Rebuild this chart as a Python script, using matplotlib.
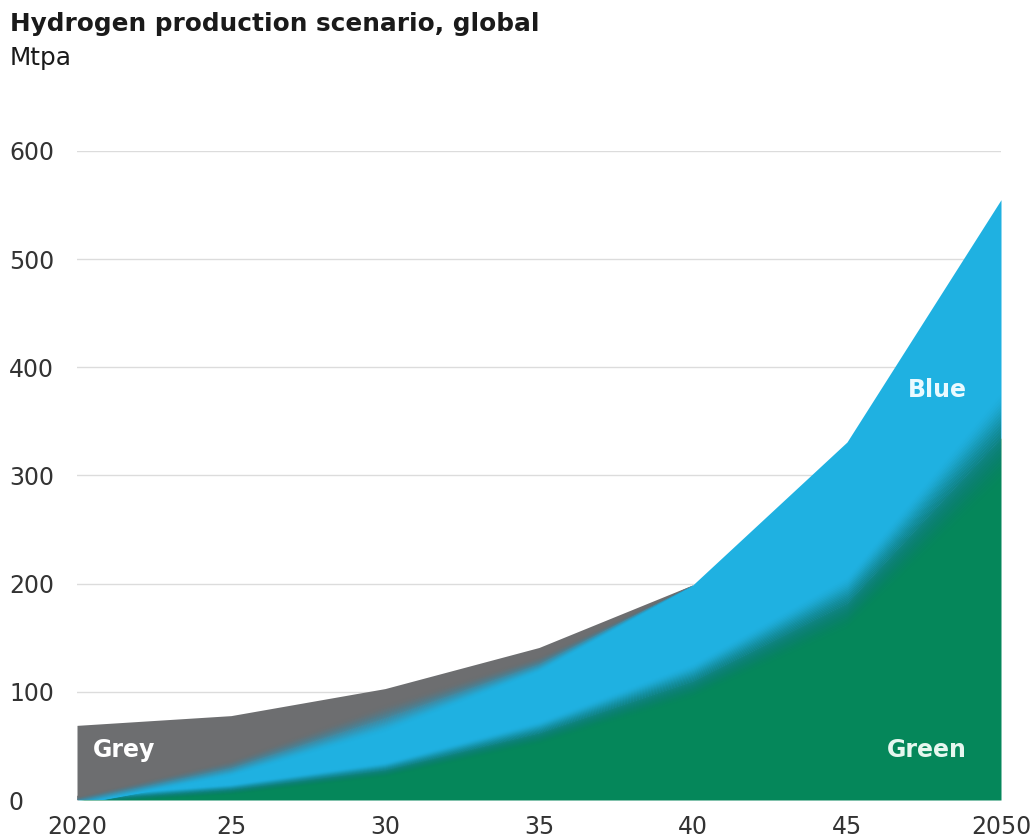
import numpy as np
import matplotlib
matplotlib.use("Agg")
import matplotlib.pyplot as plt
from matplotlib.colors import to_rgb

plt.rcParams['font.family'] = ['DejaVu Sans']

# ---- data (Mtpa) ----
years = [2020, 2025, 2030, 2035, 2040, 2045, 2050]
tick_labels = ["2020", "25", "30", "35", "40", "45", "2050"]
green = [0, 10, 28, 62, 110, 182, 335]
blue = [0, 20, 48, 64, 89, 149, 220]
grey = [69, 48, 27, 15, 0, 0, 0]

C_GREEN = "#05875a"
C_BLUE = "#1fb1e1"
C_GREY = "#6d6e70"

x = np.array(years, dtype=float)
g = np.array(green, dtype=float)
b_top = g + np.array(blue, dtype=float)
total = b_top + np.array(grey, dtype=float)

fig = plt.figure(figsize=(10.36, 8.4), dpi=100)
ax = fig.add_axes([77 / 1036, 1 - 800 / 840, 924 / 1036, 649 / 840])

ax.set_xlim(2020, 2050)
ax.set_ylim(0, 600)
ax.set_yticks([0, 100, 200, 300, 400, 500, 600])
ax.yaxis.grid(True, color="#dcdcdc", linewidth=1.0)
ax.set_axisbelow(True)
for s in ax.spines.values():
    s.set_visible(False)

# solid layers
ax.fill_between(x, 0, g, color=C_GREEN, linewidth=0, zorder=2)
ax.fill_between(x, g, b_top, color=C_BLUE, linewidth=0, zorder=2)
ax.fill_between(x, b_top, total, color=C_GREY, linewidth=0, zorder=2)

# invisible clip regions
clip_gb = ax.fill_between(x, 0, b_top, color="none", linewidth=0)
clip_all = ax.fill_between(x, 0, total, color="none", linewidth=0)


def mix(c1, c2, t, dark=0.0):
    a = np.array(to_rgb(c1))
    bb = np.array(to_rgb(c2))
    c = a * (1 - t) + bb * t
    c = c * (1 - dark * 4 * t * (1 - t))
    return tuple(np.clip(c, 0, 1))


def soft_edge(center, width, c_low, c_high, clip, n=32, dark=0.15):
    lo = center - width / 2
    overlap = np.where(width > 0, 0.4, 0.0)
    for k in range(n):
        f0, f1 = k / n, (k + 1) / n
        t = (f0 + f1) / 2
        t = t * t * (3 - 2 * t)
        col = mix(c_low, c_high, t, dark)
        p = ax.fill_between(x, lo + f0 * width, lo + f1 * width + overlap,
                            color=col, linewidth=0, zorder=3)
        p.set_clip_path(clip.get_paths()[0], ax.transData)


w_gb = 0.24 * g + 8
soft_edge(g, w_gb, C_GREEN, C_BLUE, clip_gb)
w_gr = np.minimum(0.25 * b_top + 8, np.array(grey, dtype=float))
soft_edge(b_top, w_gr, C_BLUE, C_GREY, clip_all, dark=0.05)

ax.set_xticks(years)
ax.set_xticklabels(tick_labels)
ax.tick_params(axis="x", length=0, pad=11, labelsize=17, colors="#333333")
ax.tick_params(axis="y", length=0, pad=49, labelsize=17, colors="#333333")
for lab in ax.get_yticklabels():
    lab.set_horizontalalignment("left")

# in-area labels
ax.text(2020.5, 46, "Grey", color="white", fontsize=17, fontweight="bold",
        ha="left", va="center", zorder=5)
ax.text(2048.9, 379, "Blue", color="#eafaff", fontsize=17, fontweight="bold",
        ha="right", va="center", zorder=5)
ax.text(2048.9, 46, "Green", color="#e6f7ef", fontsize=17, fontweight="bold",
        ha="right", va="center", zorder=5)

fig.text(10 / 1036, 1 - 12 / 840, "Hydrogen production scenario, global",
         fontsize=17.8, fontweight="bold", color="#1a1a1a", ha="left", va="top")
fig.text(10 / 1036, 1 - 46 / 840, "Mtpa", fontsize=17.8, color="#1a1a1a",
         ha="left", va="top")

fig.savefig("out.png", dpi=100, facecolor="white")
